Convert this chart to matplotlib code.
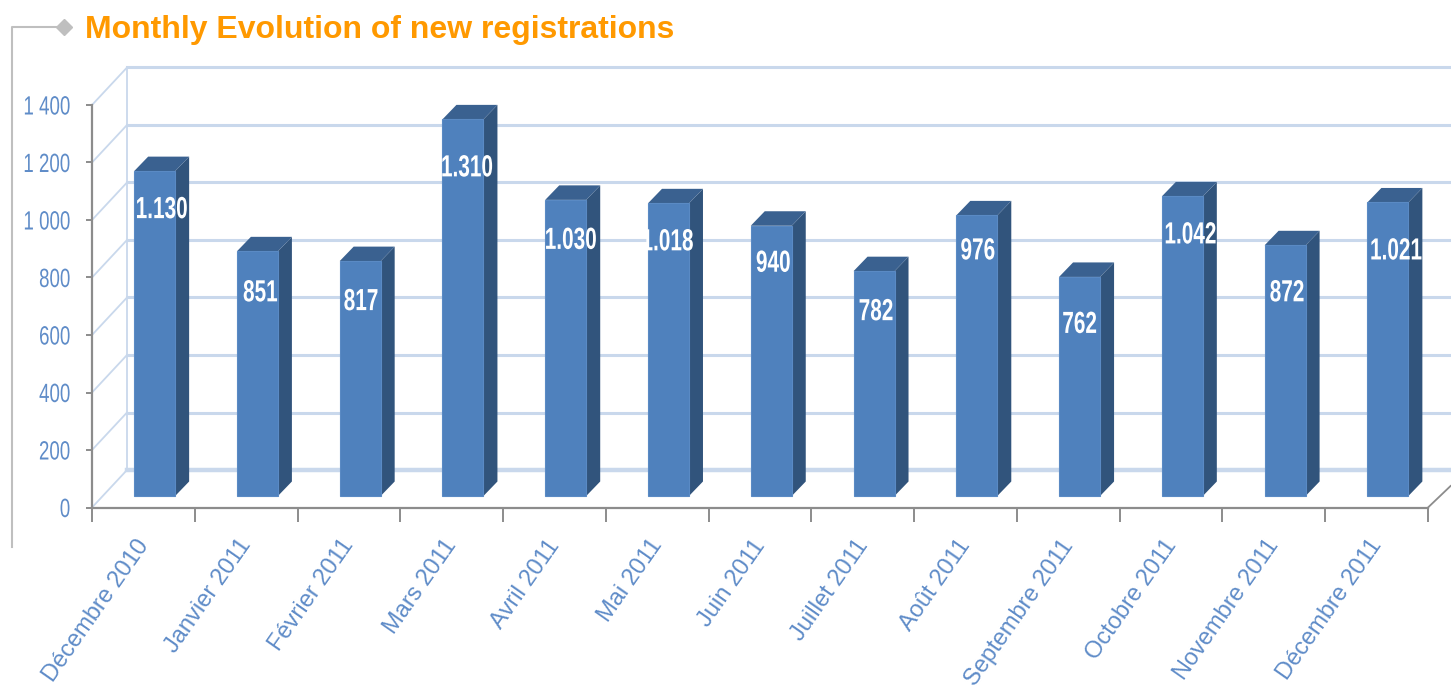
import matplotlib
matplotlib.use("Agg")
import matplotlib.pyplot as plt
from matplotlib.lines import Line2D
from matplotlib.patches import Polygon
from matplotlib.patheffects import AbstractPathEffect
from matplotlib.transforms import Affine2D

months = ["Décembre 2010", "Janvier 2011", "Février 2011", "Mars 2011", "Avril 2011",
          "Mai 2011", "Juin 2011", "Juillet 2011", "Août 2011", "Septembre 2011",
          "Octobre 2011", "Novembre 2011", "Décembre 2011"]
registrations = [1130, 851, 817, 1310, 1030, 1018, 940, 782, 976, 762, 1042, 872, 1021]
y_ticks = [0, 200, 400, 600, 800, 1000, 1200, 1400]
y_tick_labels = ["0", "200", "400", "600", "800", "1 000", "1 200", "1 400"]


# no narrow font installed, so squeeze the glyphs sideways
class Squeeze(AbstractPathEffect):
    def __init__(self, sx, anchor):
        super().__init__()
        self.sx = sx
        self.anchor = anchor

    def draw_path(self, renderer, gc, tpath, affine, rgbFace=None):
        box = tpath.get_extents()
        a = box.x0 + self.anchor * box.width
        squeeze = Affine2D().translate(-a, 0).scale(self.sx, 1).translate(a, 0)
        renderer.draw_path(gc, tpath, squeeze + affine, rgbFace)


W, H = 1451, 687
sans = "Liberation Sans"
front = "#4f81bd"
top = "#3a6190"
side = "#31547c"
grid = "#c9d8ec"
label_blue = "#5f8cc8"

fig = plt.figure(figsize=(W / 100, H / 100), dpi=100)
x0, x1, y0, y1 = 92, 1428, 507.5, 105
ax = fig.add_axes([x0 / W, 1 - y0 / H, (x1 - x0) / W, (y0 - y1) / H])
ax.set_xlim(0, 13)
ax.set_ylim(0, 1400)
ax.patch.set_visible(False)
ax.spines["top"].set_visible(False)
ax.spines["right"].set_visible(False)
ax.spines["left"].set_color("#8c8c8c")
ax.spines["bottom"].set_color("#8c8c8c")
ax.spines["left"].set_linewidth(1.6)
ax.spines["bottom"].set_linewidth(1.6)

ux = (x1 - x0) / 13
uy = (y0 - y1) / 1400

# back wall and floor lines
wall_dx = 35 / ux
wall_dy = 37.5 / uy
for v in y_ticks:
    lw = 3.2 if v == 0 else 2.2
    ax.plot([wall_dx, 13.25], [v + wall_dy, v + wall_dy], color=grid, lw=lw, clip_on=False, zorder=1)
    ax.plot([0, wall_dx], [v, v + wall_dy], color=grid, lw=1.3, clip_on=False, zorder=1)
ax.plot([wall_dx, wall_dx], [wall_dy, 1400 + wall_dy], color=grid, lw=1.3, clip_on=False, zorder=1)
ax.plot([13, 13.22], [0, 75], color="#8c8c8c", lw=1.3, clip_on=False, zorder=1)

# fake 3d bars
bar_w = 41 / ux
bar_lift = 11.5 / uy
bar_shift = 0.41
dx = 14 / ux
dy = 14.5 / uy
label_drop = [39, 42, 41, 49, 41, 39, 38, 41, 36, 48, 39, 48, 49]
label_move = [7, 3, 1, 4, 5, -1, 2, 2, 1, 0, 8, 2, 8]
for i, v in enumerate(registrations):
    left = i + bar_shift
    right = left + bar_w
    base = bar_lift
    high = v + bar_lift
    ax.add_patch(Polygon([(right, base), (right + dx, base + dy), (right + dx, high + dy), (right, high)],
                         closed=True, fc=side, ec="none", clip_on=False, zorder=3))
    ax.add_patch(Polygon([(left, high), (right, high), (right + dx, high + dy), (left + dx, high + dy)],
                         closed=True, fc=top, ec="none", clip_on=False, zorder=3))
    ax.bar(left, v, width=bar_w, bottom=base, align="edge", color=front, edgecolor="#5a8ac4",
           linewidth=0.8, clip_on=False, zorder=4)
    text = f"{v:,}".replace(",", ".")
    t = ax.annotate(text, xy=(left + bar_w / 2, high), xytext=(label_move[i] * 0.72, -label_drop[i] * 0.72),
                    textcoords="offset points", ha="center", va="center", color="white",
                    fontsize=22, fontweight="bold", family=sans, zorder=5, annotation_clip=False)
    t.set_path_effects([Squeeze(0.68, 0.5)])

ax.set_xticks(range(14))
ax.set_xticklabels([])
ax.tick_params(axis="x", which="major", length=10, width=1.4, color="#8c8c8c")
ax.set_xticks([i + 0.42 for i in range(13)], minor=True)
ax.set_xticklabels(months, minor=True, rotation=55, ha="right", rotation_mode="anchor",
                   color=label_blue, fontsize=17, family=sans)
ax.tick_params(axis="x", which="minor", length=0, pad=20)
ax.set_yticks(y_ticks)
ax.set_yticklabels(y_tick_labels, color=label_blue, fontsize=19, family=sans)
ax.tick_params(axis="y", length=4.5, width=1.4, color="#8c8c8c", pad=11)
for lab in ax.get_yticklabels():
    lab.set_path_effects([Squeeze(0.71, 1.0)])

# title and bracket
fig.text(85 / W, 1 - 30 / H, "Monthly Evolution of new registrations", color="#ff9900", fontsize=23,
         fontweight="bold", family=sans, va="center", ha="left")
fig.add_artist(Line2D([12 / W, 12 / W, 62 / W], [1 - 547 / H, 1 - 27 / H, 1 - 27 / H],
                      transform=fig.transFigure, color="#bfbfbf", lw=1.5))
fig.add_artist(Line2D([64 / W], [1 - 27 / H], transform=fig.transFigure, marker="D", markersize=8.5,
                      color="#bfbfbf", lw=0))

fig.savefig("out.png", dpi=100)
